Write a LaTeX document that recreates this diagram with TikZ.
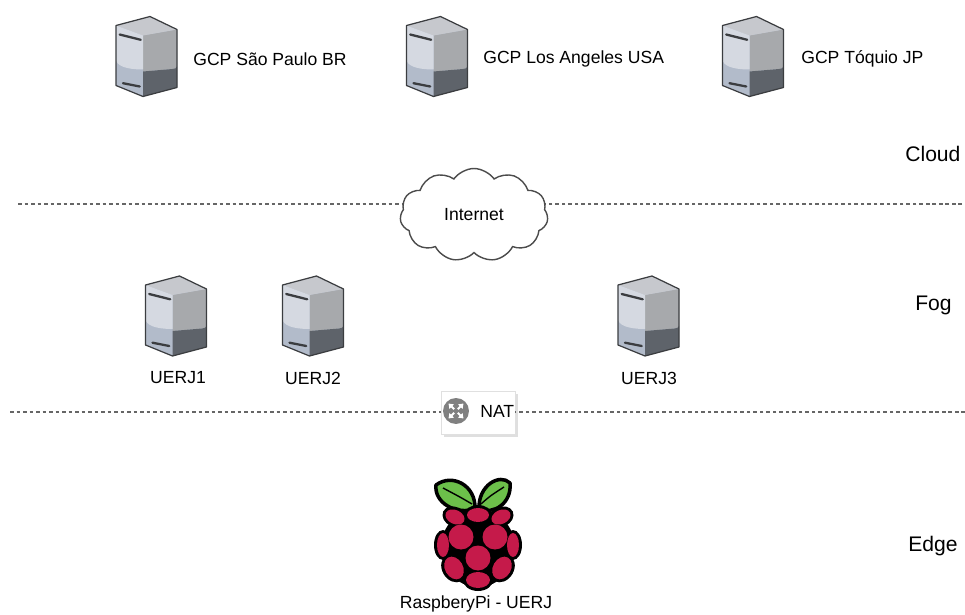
\documentclass[tikz,border=0pt]{standalone}
\usepackage{fontspec}
\setmainfont{Liberation Sans}
\usepackage{xcolor}
\usepackage{tikz}
\usetikzlibrary{arrows.meta}
\usetikzlibrary{shapes.symbols}
\usetikzlibrary{shadows}
\usetikzlibrary{backgrounds}
\usetikzlibrary{positioning}
\tikzset{>=Latex}

\definecolor{srvlight}{HTML}{D5D9E1}
\definecolor{srvtop}{HTML}{C6C8CD}
\definecolor{srvblue}{HTML}{B2BBCA}
\definecolor{srvgrey}{HTML}{A7A9AC}
\definecolor{srvdark}{HTML}{5E636A}
\definecolor{srvedge}{HTML}{3B3D40}
\definecolor{rpired}{HTML}{C51A4A}
\definecolor{rpigreen}{HTML}{6CC04A}

\tikzstyle{lbl} = [inner sep=0pt, font=\fontsize{10}{12}\selectfont]
\tikzstyle{layer} = [inner sep=0pt, anchor=west, font=\fontsize{12}{14}\selectfont]
\tikzstyle{sep} = [draw=black!60, line width=0.6pt, dash pattern=on 2pt off 1.7pt]
\tikzstyle{netcloud} = [cloud, cloud puffs=11, cloud puff arc=110, aspect=1.6, draw=black!70, line width=0.8pt, fill=white, minimum width=2.96cm, minimum height=1.86cm, inner sep=0pt, font=\fontsize{10}{12}\selectfont]
\tikzstyle{natbox} = [rectangle, draw=black!12, fill=white, minimum width=1.48cm, minimum height=0.86cm, drop shadow={shadow xshift=1.5pt, shadow yshift=-1.5pt, opacity=0.25}]

% server icon, drawn in pixel units around its centre
\tikzset{
  server/.pic={
    \fill[srvblue] (-30.5,-31) -- (3.5,-40) -- (30.5,-27) -- (30.5,31) -- (-3.5,40) -- (-30.5,29) -- cycle;
    \fill[srvgrey] (-3.5,-21) -- (30.5,-27) -- (30.5,10) .. controls (30.5,12) and (28,12) .. (26,12.5) -- (-3.5,15) -- cycle;
    \fill[srvdark] (-3.5,15) -- (26,12.5) .. controls (28,12) and (30.5,12) .. (30.5,10) -- (30.5,31) -- (-3.5,40) -- cycle;
    \fill[srvtop] (-30.5,-31) -- (3.5,-40) -- (30.5,-27) -- (-3.5,-21) -- cycle;
    \fill[srvlight] (-30.5,-31) -- (-3.5,-21) -- (-3.5,13) .. controls (-12,13) and (-28,12) .. (-30.5,4) -- cycle;
    \draw[srvedge, line width=1.3pt, line cap=round] (-26.8,-22) -- (-5.8,-16.7) (-23.5,26.7) -- (-6.8,30);
    \draw[srvedge, line width=0.7pt, line join=round] (-30.5,-31) -- (3.5,-40) -- (30.5,-27) -- (30.5,31) -- (-3.5,40) -- (-30.5,29) -- cycle;
  },
  % raspberry logo
  raspberry/.pic={
    \path[fill=rpigreen, draw=black, line width=2pt, line join=round]
      (-3,-36) .. controls (-2,-60) and (-26,-72) .. (-42,-60) .. controls (-44,-42) and (-22,-30) .. cycle
      (1,-36) .. controls (0,-60) and (22,-72) .. (32,-62) .. controls (34,-42) and (16,-30) .. cycle;
    \draw[black, line width=0.8pt] (-6,-41) .. controls (-18,-48) .. (-35,-57) (3,-41) .. controls (12,-49) .. (26,-58);
    \fill[black] (0,3) ellipse [x radius=37, y radius=39];
    \foreach \dx/\dy/\rx/\ry/\r in {0/-30/11/7/0, -23/-28/10/7/-25, 23/-28/10/7/25,
        -17/-8/12.5/12.5/0, 17/-8/12.5/12.5/0, -35/0/6/12/0, 35/0/6/12/0,
        0/13/12.5/12.5/0, -24/23/9/12/30, 24/23/9/12/-30, 0/35/12/8/0}
      \fill[black, rotate around={\r:(\dx,\dy)}] (\dx,\dy) ellipse [x radius=\rx+3, y radius=\ry+3];
    \foreach \dx/\dy/\rx/\ry/\r in {0/-30/11/7/0, -23/-28/10/7/-25, 23/-28/10/7/25,
        -17/-8/12.5/12.5/0, 17/-8/12.5/12.5/0, -35/0/6/12/0, 35/0/6/12/0,
        0/13/12.5/12.5/0, -24/23/9/12/30, 24/23/9/12/-30, 0/35/12/8/0}
      \fill[rpired, rotate around={\r:(\dx,\dy)}] (\dx,\dy) ellipse [x radius=\rx, y radius=\ry];
  }
}

\begin{document}
\begin{tikzpicture}[x=0.02cm, y=-0.02cm]
\useasboundingbox (0,0) rectangle (965,615);

% cloud
\pic (sp) at (146.5,56.5) {server};
\node [lbl, anchor=west] (spl) at (193,59) {GCP São Paulo BR};
\pic (la) at (437,56.5) {server};
\node [lbl, anchor=west] (lal) at (483,59) {GCP Los Angeles USA};
\pic (tq) at (753,56.5) {server};
\node [lbl, anchor=west] (tql) at (801,59) {GCP Tóquio JP};

\node [netcloud] (inet) at (474,215) {Internet};
\coordinate (cl) at (18,204);
\coordinate (cr) at (962,204);
\begin{scope}[on background layer]
\draw [sep] (cl) -- (cl -| inet.center);
\draw [sep] (cr) -- (cr -| inet.center);
\end{scope}

% fog
\pic (u1) at (176,316) {server};
\node [lbl] (u1l) at (178,378) {UERJ1};
\pic (u2) at (313,316) {server};
\node [lbl] (u2l) at (313,378) {UERJ2};
\pic (u3) at (648.5,316) {server};
\node [lbl] (u3l) at (649,378) {UERJ3};

\node [natbox] (nat) at (478,413) {};
\node [circle, fill=black!50, minimum size=0.52cm, inner sep=0pt] (natico) at (456,411) {};
\foreach \a in {45,135,225,315}
  \draw [white, line width=1.2pt, -{Triangle[length=2.5pt, width=3.5pt]}] ([shift={(\a:1.5pt)}]natico.center) -- ([shift={(\a:6pt)}]natico.center);
\node [lbl, anchor=west] (natl) at (480,411) {NAT};
\coordinate (nl) at (10,412);
\coordinate (nr) at (965,412);
\draw [sep] (nl) -- (nl -| nat.west);
\draw [sep] (nr) -- (nr -| nat.east);

% edge
\pic (rpi) at (478,545) {raspberry};
\node [lbl] (rpil) at (476,604) {RaspberyPi - UERJ};

\node [layer] (cld) at (905,154) {Cloud};
\node [layer] (fog) at (915,305) {Fog};
\node [layer] (edg) at (908,546) {Edge};
\end{tikzpicture}
\end{document}
